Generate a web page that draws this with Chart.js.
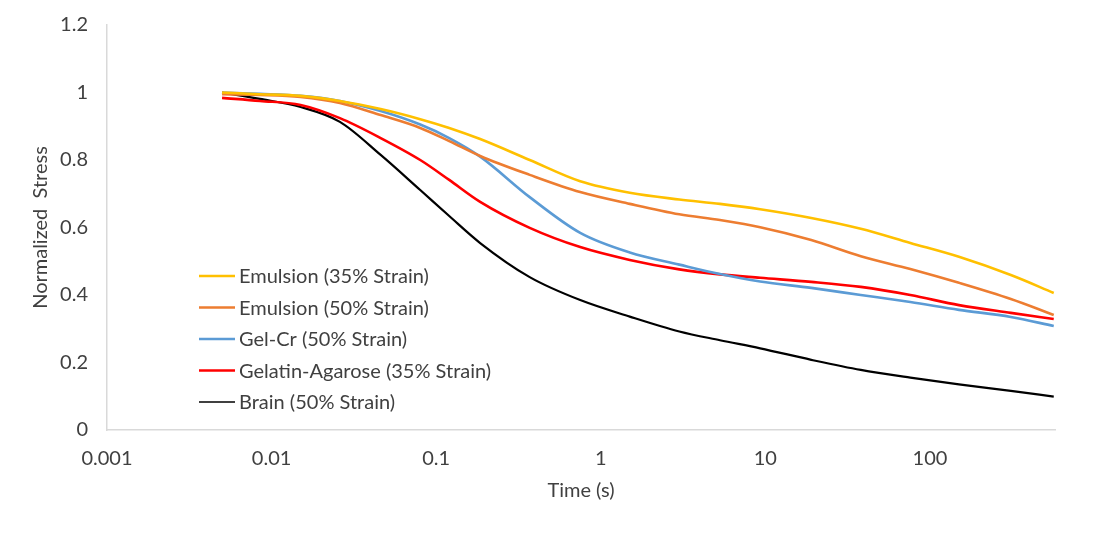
<!DOCTYPE html>
<html>
<head>
<meta charset="utf-8">
<script src="https://cdn.jsdelivr.net/npm/chart.js@4.4.1/dist/chart.umd.min.js"></script>
<style>
  body { margin: 0; background: #fff; }
</style>
</head>
<body>
<canvas id="stressChart" width="1096" height="536"></canvas>
<script>
  // relaxation data - time in seconds, stress normalized to first reading
  const timeS = [0.005, 0.0085, 0.015, 0.026, 0.046, 0.08, 0.12, 0.185, 0.37, 0.75,
                 1.5, 3, 5.3, 9.3, 19, 38, 76, 150, 310, 565];

  const emulsion35 = [1.0, 0.995, 0.99, 0.975, 0.951, 0.921, 0.895, 0.862, 0.80, 0.737,
                      0.703, 0.683, 0.670, 0.654, 0.628, 0.596, 0.554, 0.513, 0.459, 0.406];
  const emulsion50 = [0.995, 0.993, 0.987, 0.969, 0.933, 0.895, 0.856, 0.812, 0.756, 0.705,
                      0.670, 0.639, 0.622, 0.601, 0.563, 0.515, 0.477, 0.436, 0.388, 0.341];
  const gelCr50 = [1.0, 0.996, 0.99, 0.975, 0.945, 0.905, 0.865, 0.81, 0.690, 0.584,
                   0.526, 0.490, 0.462, 0.440, 0.421, 0.400, 0.379, 0.356, 0.335, 0.308];
  const gelAgar35 = [0.984, 0.975, 0.963, 0.924, 0.865, 0.80, 0.741, 0.676, 0.599, 0.542,
                     0.504, 0.476, 0.461, 0.451, 0.439, 0.424, 0.400, 0.370, 0.347, 0.329];
  const brain50 = [1.0, 0.981, 0.957, 0.913, 0.815, 0.711, 0.634, 0.554, 0.453, 0.385,
                   0.336, 0.292, 0.266, 0.242, 0.208, 0.178, 0.155, 0.135, 0.116, 0.099];

  const seriesNames = ['Emulsion (35% Strain)', 'Emulsion (50% Strain)', 'Gel-Cr (50% Strain)',
                       'Gelatin-Agarose (35% Strain)', 'Brain (50% Strain)'];
  const seriesColors = ['#FFC000', '#ED7D31', '#5B9BD5', '#FF0000', '#000000'];

  const xTicks = [0.001, 0.01, 0.1, 1, 10, 100];
  const yTicks = [0, 0.2, 0.4, 0.6, 0.8, 1, 1.2];

  const textColor = '#404040';
  const fontFamily = 'Lato, "Liberation Sans", sans-serif';

  function pairs(ys) {
    return timeS.map((t, i) => ({x: t, y: ys[i]}));
  }

  const allSeries = [emulsion35, emulsion50, gelCr50, gelAgar35, brain50];

  const datasets = allSeries.map((ys, i) => ({
    label: seriesNames[i],
    data: pairs(ys),
    borderColor: seriesColors[i],
    backgroundColor: seriesColors[i],
    borderWidth: i === 4 ? 2.2 : 2.6,
    pointRadius: 0,
    fill: false,
    cubicInterpolationMode: 'monotone'
  }));

  // legend sits inside the plot, lower left
  const insideLegend = {
    id: 'insideLegend',
    afterDatasetsDraw(chart) {
      const ctx = chart.ctx;
      const area = chart.chartArea;
      const x0 = area.left + 92;
      const y0 = area.bottom - 154;
      ctx.save();
      ctx.font = '20px ' + fontFamily;
      ctx.textBaseline = 'middle';
      ctx.textAlign = 'left';
      chart.data.datasets.forEach((ds, i) => {
        const y = y0 + i * 31.5;
        ctx.strokeStyle = ds.borderColor;
        ctx.lineWidth = i === 4 ? 1.5 : 2.5;
        ctx.beginPath();
        ctx.moveTo(x0, y);
        ctx.lineTo(x0 + 36, y);
        ctx.stroke();
        ctx.fillStyle = textColor;
        ctx.fillText(ds.label, x0 + 40, y + 1);
      });
      ctx.restore();
    }
  };

  const config = {
    type: 'line',
    data: { datasets: datasets },
    options: {
      responsive: false,
      animation: false,
      devicePixelRatio: 1,
      layout: { padding: { left: 0, top: 25, right: 41, bottom: 8 } },
      plugins: {
        legend: { display: false },
        tooltip: { enabled: false }
      },
      scales: {
        x: {
          type: 'logarithmic',
          min: 0.001,
          max: 575,
          afterBuildTicks: (scale) => { scale.ticks = xTicks.map(v => ({value: v})); },
          afterFit: (scale) => { scale.height = 98; },
          grid: { display: false, drawTicks: false },
          border: { display: true, color: '#d9d9d9', width: 1.5 },
          ticks: {
            color: textColor,
            padding: 17,
            font: { family: fontFamily, size: 20 },
            maxRotation: 0,
            callback: (v) => String(v)
          },
          title: {
            display: true,
            text: 'Time (s)',
            color: textColor,
            font: { family: fontFamily, size: 20 },
            padding: { bottom: 25 }
          }
        },
        y: {
          min: 0,
          max: 1.2,
          afterBuildTicks: (scale) => { scale.ticks = yTicks.map(v => ({value: v})); },
          afterFit: (scale) => {
            scale.width = 107;
            // let the layout padding decide where the plot starts
            scale.paddingTop = 0;
            scale.paddingBottom = 0;
          },
          grid: { display: false, drawTicks: false },
          border: { display: true, color: '#d9d9d9', width: 1.5 },
          ticks: {
            color: textColor,
            padding: 19,
            font: { family: fontFamily, size: 20 },
            callback: (v) => String(+v.toFixed(1))
          },
          title: {
            display: true,
            text: 'Normalized  Stress',
            color: textColor,
            font: { family: fontFamily, size: 20 },
            padding: { top: 29 }
          }
        }
      }
    },
    plugins: [insideLegend]
  };

  const stressChart = new Chart(document.getElementById('stressChart'), config);
</script>
</body>
</html>
